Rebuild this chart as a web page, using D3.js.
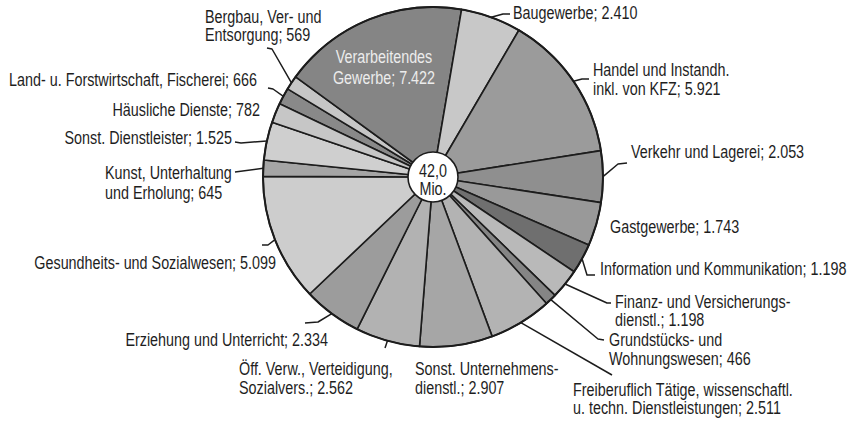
<!DOCTYPE html>
<html>
<head>
<meta charset="utf-8">
<script src="https://cdn.jsdelivr.net/npm/d3@7"></script>
<style>
  html,body{margin:0;padding:0;background:#fff}
  svg{display:block}
  text{font-family:"Liberation Sans",Arial,sans-serif;font-size:17.5px;fill:#1e1e1e}
</style>
</head>
<body>
<svg id="chart" width="856" height="422"></svg>
<script>
// Erwerbstaetige nach Wirtschaftsbereichen, in Tsd. (Reihenfolge nach WZ, im Uhrzeigersinn)
const categories = [
  'Land- u. Forstwirtschaft, Fischerei',
  'Bergbau, Ver- und\nEntsorgung',
  'Verarbeitendes\nGewerbe',
  'Baugewerbe',
  'Handel und Instandh.\ninkl. von KFZ',
  'Verkehr und Lagerei',
  'Gastgewerbe',
  'Information und Kommunikation',
  'Finanz- und Versicherungs-\ndienstl.',
  'Grundstücks- und\nWohnungswesen',
  'Freiberuflich Tätige, wissenschaftl.\nu. techn. Dienstleistungen',
  'Sonst. Unternehmens-\ndienstl.',
  'Öff. Verw., Verteidigung,\nSozialvers.',
  'Erziehung und Unterricht',
  'Gesundheits- und Sozialwesen',
  'Kunst, Unterhaltung\nund Erholung',
  'Sonst. Dienstleister',
  'Häusliche Dienste'
]
const values = [666, 569, 7422, 2410, 5921, 2053, 1743, 1198, 1198, 466, 2511, 2907, 2562, 2334, 5099, 645, 1525, 782]
const centerUnit = 'Mio.'

// Grautoene je Segment
const fills = ['#898989','#c6c6c6','#858585','#c8c8c8','#9b9b9b','#8f8f8f','#999999','#6f6f6f','#b9b9b9',
  '#858585','#b3b3b3','#a6a6a6','#b2b2b2','#9c9c9c','#cdcdcd','#a5a5a5','#cfcfcf','#c6c6c6']

// Beschriftung: Ausrichtung, x, Zeilenmitten y, Knickpunkte der Fuehrungslinie (null = keine)
const labelLayout = [
  { anchor:'end',    x:257, y:[80],       leader:[[273,89],[268,88]] },
  { anchor:'start',  x:205, y:[17,35],    leader:[[272,49],[267,48]] },
  { anchor:'middle', x:384, y:[57,78],    leader:null, inside:true },
  { anchor:'start',  x:513, y:[13],       leader:[[503,14],[510,14]] },
  { anchor:'start',  x:593, y:[70,89],    leader:[[582,79],[589,79]] },
  { anchor:'start',  x:631, y:[152],      leader:[[618,164],[627,163]] },
  { anchor:'start',  x:610, y:[227],      leader:null },
  { anchor:'start',  x:600, y:[269],      leader:[[587,275],[595,275]] },
  { anchor:'start',  x:615, y:[302,320],  leader:[[607,303],[611,303]] },
  { anchor:'start',  x:609, y:[340,359],  leader:[[598,339],[604,340]] },
  { anchor:'start',  x:573, y:[390,408],  leader:[[612,375]] },
  { anchor:'start',  x:415, y:[369,388],  leader:null },
  { anchor:'start',  x:239, y:[369,388],  leader:[[385,348]] },
  { anchor:'end',    x:328, y:[340],      leader:[[318,322],[305,323]] },
  { anchor:'end',    x:276, y:[263],      leader:[[268,245],[262,245]] },
  { anchor:'start',  x:105, y:[173,193],  leader:[[235,172]] },
  { anchor:'end',    x:232, y:[138],      leader:[[241,143],[235,142]] },
  { anchor:'end',    x:260, y:[110],      leader:null }
]

const W = 856, H = 422
const cx = 433, cy = 177, R = 170, rHole = 25
const startDeg = -64.5
const narrow = 0.82   // schmale Schrift nachbilden

const de = d3.formatLocale({ decimal:',', thousands:'.', grouping:[3], currency:['','€'] })
const fmtVal = de.format(',')
const fmtSum = de.format(',.1f')

const svg = d3.select('#chart')
const g = svg.append('g').attr('transform', `translate(${cx},${cy})`)

const data = categories.map((c, i) => ({ i, name: c, value: values[i] }))
const pie = d3.pie().sort(null).value(d => d.value)
  .startAngle(startDeg * Math.PI/180).endAngle(startDeg * Math.PI/180 + 2*Math.PI)
const arcs = pie(data)
const arc = d3.arc().innerRadius(0).outerRadius(R)

g.selectAll('path.slice').data(arcs).join('path')
  .attr('class','slice')
  .attr('d', arc)
  .attr('fill', d => fills[d.data.i])
  .attr('stroke', '#1c1c1c')
  .attr('stroke-width', 1.6)
  .attr('stroke-linejoin', 'round')

// Aussenkontur
g.append('circle').attr('r', R).attr('fill','none').attr('stroke','#1c1c1c').attr('stroke-width', 2)

// Mittelkreis mit Summe
g.append('circle').attr('r', rHole).attr('fill','#fff').attr('stroke','#1c1c1c').attr('stroke-width', 1.6)

function addText(parent, x, ys, lines, anchor){
  const t = parent.append('text').attr('text-anchor', anchor)
    .attr('transform', `translate(${x},0) scale(${narrow},1)`)
  lines.forEach((s, k) => t.append('tspan').attr('x', 0).attr('y', ys[k] + 6).text(s))
  return t
}

const total = d3.sum(values) / 1000
addText(svg, cx, [cy - 6, cy + 12], [fmtSum(total), centerUnit], 'middle')

// Fuehrungslinien
function edgePoint(d){
  const a = (d.startAngle + d.endAngle) / 2
  return [cx + R*Math.sin(a), cy - R*Math.cos(a)]
}
const line = d3.line()
const lab = svg.append('g')
arcs.forEach(d => {
  const L = labelLayout[d.data.i]
  if(!L || !L.leader) return
  lab.append('path')
    .attr('d', line([edgePoint(d), ...L.leader]))
    .attr('fill','none').attr('stroke','#1c1c1c').attr('stroke-width', 1.5)
    .attr('stroke-linejoin','round')
})

// Texte
arcs.forEach(d => {
  const L = labelLayout[d.data.i]
  const lines = d.data.name.split('\n')
  lines[lines.length-1] += '; ' + fmtVal(d.data.value)
  const t = addText(lab, L.x, L.y, lines, L.anchor)
  if(L.inside) t.style('fill', '#ececec')
})
</script>
</body>
</html>
